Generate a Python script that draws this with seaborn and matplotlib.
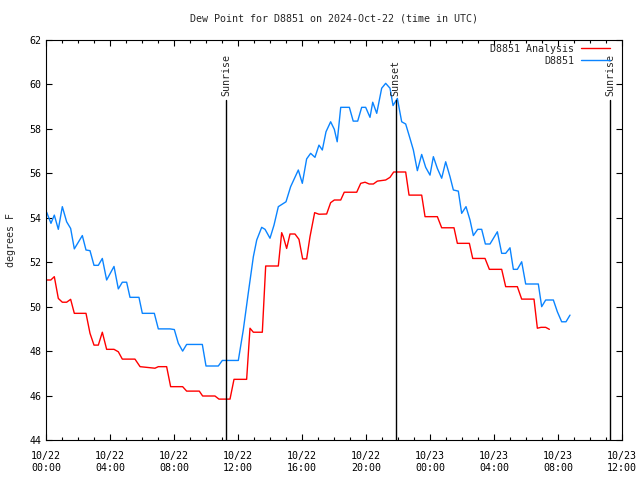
import pandas as pd
import seaborn as sns
import matplotlib
matplotlib.use("Agg")
import matplotlib.pyplot as plt
import matplotlib.dates as mdates

# hours after 2024-10-22 00:00 UTC, dew point in F
obs_hours = [0.04, 0.31, 0.52, 0.77, 1.02, 1.29, 1.54, 1.77, 2.27, 2.5, 2.75, 3.0, 3.27, 3.52,
             3.79, 4.25, 4.52, 4.77, 5.04, 5.25, 5.81, 6.02, 6.77, 7.02, 7.75, 8.02, 8.27, 8.54,
             8.79, 9.77, 10.0, 10.77, 11.02, 12.02, 12.33, 12.64, 12.96, 13.17, 13.48, 13.69,
             14.0, 14.25, 14.52, 15.0, 15.29, 15.77, 16.02, 16.29, 16.54, 16.81, 17.06, 17.27,
             17.5, 17.79, 18.02, 18.2, 18.42, 18.96, 19.2, 19.48, 19.73, 19.98, 20.25, 20.42,
             20.67, 20.98, 21.23, 21.5, 21.69, 21.96, 22.23, 22.48, 22.75, 22.96, 23.21, 23.48,
             23.73, 24.0, 24.21, 24.46, 24.73, 24.98, 25.25, 25.46, 25.77, 25.98, 26.25, 26.5,
             26.71, 26.98, 27.23, 27.46, 27.75, 28.21, 28.48, 28.73, 29.0, 29.21, 29.46, 29.73,
             29.98, 30.77, 30.98, 31.23, 31.71, 31.96, 32.23, 32.5, 32.75]
obs_dewpt = [54.25, 53.75, 54.12, 53.48, 54.5, 53.82, 53.52, 52.6, 53.2, 52.55, 52.52, 51.86,
             51.86, 52.17, 51.2, 51.81, 50.8, 51.1, 51.1, 50.42, 50.42, 49.7, 49.7, 49.0, 49.0,
             48.97, 48.35, 48.0, 48.3, 48.3, 47.33, 47.33, 47.58, 47.58, 48.95, 50.6, 52.25,
             53.0, 53.57, 53.48, 53.08, 53.67, 54.5, 54.72, 55.4, 56.15, 55.55, 56.65, 56.9,
             56.72, 57.27, 57.05, 57.87, 58.32, 57.98, 57.42, 58.97, 58.97, 58.35, 58.35, 58.97,
             58.97, 58.52, 59.2, 58.7, 59.83, 60.05, 59.83, 59.05, 59.37, 58.32, 58.22, 57.57,
             57.05, 56.12, 56.85, 56.27, 55.92, 56.75, 56.22, 55.78, 56.52, 55.85, 55.25, 55.2,
             54.2, 54.5, 53.9, 53.2, 53.48, 53.48, 52.82, 52.82, 53.37, 52.4, 52.4, 52.65, 51.68,
             51.68, 52.02, 51.02, 51.02, 50.0, 50.3, 50.3, 49.77, 49.32, 49.32, 49.62]

ana_hours = [0.04, 0.3, 0.52, 0.77, 1.02, 1.29, 1.54, 1.77, 2.5, 2.75, 3.0, 3.27, 3.52, 3.79,
             4.25, 4.52, 4.77, 5.56, 5.88, 6.81, 7.02, 7.54, 7.79, 8.54, 8.79, 9.58, 9.79, 10.56,
             10.81, 11.5, 11.75, 12.54, 12.75, 12.96, 13.52, 13.73, 14.52, 14.73, 14.83, 15.04,
             15.25, 15.56, 15.81, 16.04, 16.29, 16.5, 16.79, 17.06, 17.54, 17.79, 18.02, 18.42,
             18.64, 19.42, 19.67, 19.94, 20.2, 20.46, 20.71, 21.23, 21.5, 21.73, 22.48, 22.69,
             23.48, 23.69, 24.46, 24.73, 25.5, 25.71, 26.46, 26.67, 27.44, 27.71, 28.48, 28.73,
             29.46, 29.73, 30.5, 30.71, 30.94, 31.23, 31.46]
ana_dewpt = [51.2, 51.2, 51.35, 50.37, 50.2, 50.2, 50.33, 49.7, 49.7, 48.8, 48.27, 48.27, 48.85,
             48.08, 48.08, 47.97, 47.64, 47.64, 47.3, 47.23, 47.3, 47.3, 46.4, 46.4, 46.2, 46.2,
             45.98, 45.98, 45.84, 45.84, 46.73, 46.73, 49.03, 48.85, 48.85, 51.83, 51.83, 53.33,
             53.15, 52.62, 53.27, 53.27, 53.03, 52.15, 52.15, 53.15, 54.23, 54.16, 54.17, 54.68,
             54.8, 54.8, 55.15, 55.15, 55.55, 55.6, 55.52, 55.52, 55.65, 55.7, 55.82, 56.06,
             56.06, 55.02, 55.02, 54.05, 54.05, 53.55, 53.55, 52.85, 52.85, 52.17, 52.17, 51.68,
             51.68, 50.9, 50.9, 50.34, 50.34, 49.03, 49.07, 49.07, 48.98]

sun_labels = ["Sunrise", "Sunset", "Sunrise"]
sun_hours = [11.25, 21.85, 35.25]

base = pd.Timestamp("2024-10-22 00:00")
df = pd.concat([
    pd.DataFrame({"time": base + pd.to_timedelta(ana_hours, unit="h"),
                  "dewpt": ana_dewpt, "series": "D8851 Analysis"}),
    pd.DataFrame({"time": base + pd.to_timedelta(obs_hours, unit="h"),
                  "dewpt": obs_dewpt, "series": "D8851"}),
])

sns.set_style("ticks")
plt.rcParams["font.family"] = ["DejaVu Sans Mono"]
fs = 7.2

fig = plt.figure(figsize=(6.4, 4.8), dpi=100)
ax = fig.add_axes([46 / 640, 40 / 480, 576 / 640, 400 / 480])

sns.lineplot(data=df, x="time", y="dewpt", hue="series",
             hue_order=["D8851 Analysis", "D8851"],
             palette={"D8851 Analysis": "#ff0000", "D8851": "#0a84ff"},
             linewidth=1, ax=ax)

# sunrise / sunset markers
for lab, h in zip(sun_labels, sun_hours):
    t = base + pd.Timedelta(hours=h)
    ax.plot([t, t], [44, 59.3], color="black", lw=1)
    ax.text(t, 59.5, lab, rotation=90, ha="center", va="bottom", fontsize=fs)

ax.set_xlim(base, base + pd.Timedelta(hours=36))
ax.set_ylim(44, 62)
ax.set_yticks(range(44, 63, 2))
ax.xaxis.set_major_locator(mdates.HourLocator(byhour=[0, 4, 8, 12, 16, 20]))
ax.xaxis.set_minor_locator(mdates.HourLocator())
ax.xaxis.set_major_formatter(mdates.DateFormatter("%m/%d\n%H:%M"))
ax.tick_params(which="both", direction="in", top=True, right=True, colors="black",
               labelsize=fs, width=0.8)
ax.tick_params(which="major", length=4)
ax.tick_params(which="minor", length=2.5)
ax.tick_params(axis="x", pad=8)
for s in ax.spines.values():
    s.set_color("black")
    s.set_linewidth(0.8)

ax.set_xlabel("")
ax.set_ylabel("degrees F", fontsize=fs)
ax.yaxis.set_label_coords(-0.052, 0.5)
ax.set_title("Dew Point for D8851 on 2024-Oct-22 (time in UTC)", fontsize=fs, pad=13)

ax.legend(loc="upper right", bbox_to_anchor=(0.98, 0.99), frameon=False,
          markerfirst=False, handlelength=2.9, handletextpad=0.7, borderpad=0,
          borderaxespad=0, labelspacing=0.2, fontsize=fs)

fig.savefig("out.png", dpi=100)
